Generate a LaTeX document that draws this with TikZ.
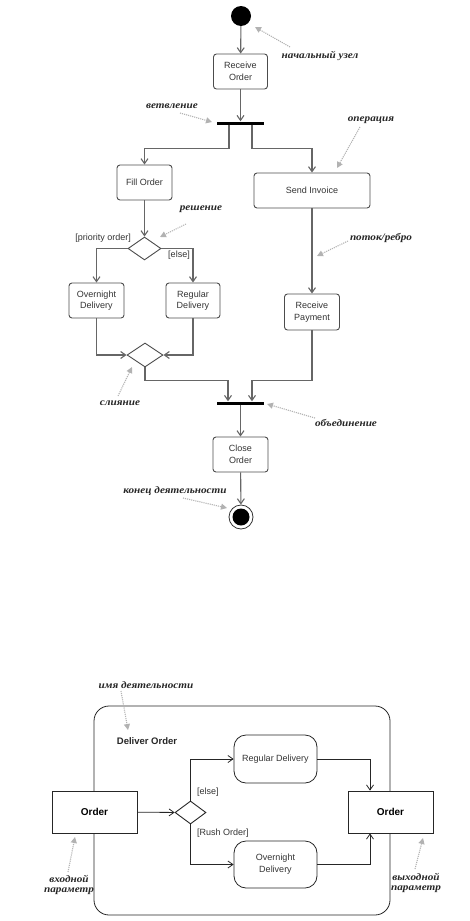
\documentclass[tikz,border=0pt]{standalone}
\usepackage{fontspec}
\setmainfont{Liberation Sans}
\newfontfamily\handfont[FakeStretch=1.12]{Liberation Serif}
\usetikzlibrary{arrows.meta,shapes.geometric}
\begin{document}
\begin{tikzpicture}[x=1pt,y=-1pt,
  every node/.style={inner sep=0pt},
  act/.style={draw=black!70, line width=0.9pt, rounded corners=3pt, align=center,
    font=\fontsize{9}{11.5}\selectfont, text=black!80},
  bigact/.style={draw=black!85, line width=0.8pt, rounded corners=12pt, align=center,
    font=\fontsize{9}{12}\selectfont, text=black!80},
  param/.style={draw=black!85, line width=0.8pt, fill=white,
    font=\fontsize{10}{12}\selectfont\bfseries},
  bar/.style={fill=black, minimum height=3pt},
  dec/.style={diamond, draw=black!70, line width=0.9pt, fill=white},
  flow/.style={draw=black!60, line width=1.1pt, -{Straight Barb[length=5pt,width=7pt]}},
  flowb/.style={draw=black!85, line width=0.8pt, -{Straight Barb[length=5pt,width=7pt]}},
  guard/.style={font=\fontsize{9}{11}\selectfont, text=black!80},
  note/.style={font=\fontsize{10}{10}\selectfont\handfont\bfseries\itshape, text=black!85, align=center},
  notearrow/.style={draw=black!30, line width=1.1pt, densely dotted,
    -{Triangle[length=6pt,width=6pt,fill=black!30]}}
]
\useasboundingbox (0,0) rectangle (470,921);

% ---------- top diagram ----------
\node[circle, fill=black, minimum size=20pt] (start) at (241,16) {};
\node[act, minimum width=54pt, minimum height=35pt] (recv) at (240.5,71.5) {Receive\\Order};
\node[bar, minimum width=47pt] (fork) at (240.5,123) {};
\node[act, minimum width=55pt, minimum height=35pt] (fill) at (144.5,182.5) {Fill Order};
\node[act, minimum width=116pt, minimum height=35pt] (send) at (312,190.5) {Send Invoice};
\node[dec, minimum width=33pt, minimum height=23pt] (dec) at (144.5,248.5) {};
\node[act, minimum width=55pt, minimum height=35pt] (over) at (96.5,300.5) {Overnight\\Delivery};
\node[act, minimum width=54pt, minimum height=35pt] (reg) at (193,300.5) {Regular\\Delivery};
\node[act, minimum width=55pt, minimum height=36pt] (pay) at (312,312) {Receive\\Payment};
\node[dec, minimum width=36pt, minimum height=24pt] (merge) at (145,355) {};
\node[bar, minimum width=47pt] (join) at (240.5,403) {};
\node[act, minimum width=55pt, minimum height=35pt] (close) at (240.5,454.5) {Close\\Order};
\node[circle, draw=black!80, line width=0.8pt, minimum size=24pt,
  path picture={\fill[black] (path picture bounding box.center) circle (8.5pt);}] (end) at (241,517) {};

\node[guard, anchor=east] (g1) at (131,238) {[priority order]};
\node[guard] (g2) at (179,255) {[else]};

\draw[flow] (start) -- (recv);
\draw[flow] (recv) -- (fork);
\draw[flow] ([xshift=-11.5pt]fork.south) -- ++(0,24) -| (fill.north);
\draw[flow] ([xshift=11.5pt]fork.south) -- ++(0,24) -| (send.north);
\draw[flow] (fill) -- (dec);
\draw[flow] (send) -- (pay);
\draw[flow] (dec.west) -| (over.north);
\draw[flow] (dec.east) -| (reg.north);
\draw[flow] (over.south) |- (merge.west);
\draw[flow] (reg.south) |- (merge.east);
\draw[flow] (merge.south) -- ++(0,13) -| ([xshift=-12.5pt]join.north);
\draw[flow] (pay.south) -- ++(0,50) -| ([xshift=11.5pt]join.north);
\draw[flow] (join) -- (close);
\draw[flow] (close) -- (end);

% annotations top
\node[note] (n1) at (320,56) {начальный узел};
\coordinate (n1t) at (255,27);
\draw[notearrow] (290,47) -- (n1t);
\node[note] (n2) at (172,106) {ветвление};
\coordinate (n2t) at (212,122);
\draw[notearrow] (180,113) -- (n2t);
\node[note] (n3) at (371,120) {операция};
\coordinate (n3t) at (337,168);
\draw[notearrow] (360,127) -- (n3t);
\node[note] (n4) at (201,209) {решение};
\coordinate (n4t) at (160,237);
\draw[notearrow] (186,224) -- (n4t);
\node[note] (n5) at (381,238) {поток/ребро};
\coordinate (n5t) at (317,256);
\draw[notearrow] (348,241) -- (n5t);
\node[note] (n6) at (120,403) {слияние};
\coordinate (n6t) at (132,367);
\draw[notearrow] (118,396) -- (n6t);
\node[note] (n7) at (346,423) {объединение};
\coordinate (n7t) at (267,404);
\draw[notearrow] (315,418) -- (n7t);
\node[note] (n8) at (175,491) {конец деятельности};
\coordinate (n8t) at (227,508);
\draw[notearrow] (183,498) -- (n8t);

% ---------- bottom diagram ----------
\node[draw=black!85, line width=0.8pt, rounded corners=15pt, minimum width=296pt, minimum height=209pt] (frame) at (242,810.5) {};
\node[font=\fontsize{9.5}{11}\selectfont\bfseries, text=black!85] (title) at (147,741) {Deliver Order};
\node[param, minimum width=85pt, minimum height=42pt] (in) at (94.5,812) {Order};
\node[param, minimum width=85pt, minimum height=42pt] (out) at (390.5,812) {Order};
\node[dec, draw=black!85, minimum width=31pt, minimum height=23pt] (dd) at (190.5,812.5) {};
\node[bigact, minimum width=83pt, minimum height=48pt] (rd) at (275.5,759) {Regular Delivery};
\node[bigact, minimum width=83pt, minimum height=47pt] (od) at (275.5,864.5) {Overnight\\Delivery};
\node[guard, anchor=west] (g3) at (197,792) {[else]};
\node[guard, anchor=west] (g4) at (197,833) {[Rush Order]};

\draw[flowb] (in) -- (dd);
\draw[flowb] (dd.north) |- (rd.west);
\draw[flowb] (dd.south) |- (od.west);
\draw[flowb] (rd.east) -| ([xshift=-20.5pt]out.north);
\draw[flowb] (od.east) -| ([xshift=-20.5pt]out.south);

\node[note] (n9) at (146,685) {имя деятельности};
\coordinate (n9t) at (128,730);
\draw[notearrow] (121,691) -- (n9t);
\node[note] (n10) at (69,885) {входной\\параметр};
\coordinate (n10t) at (75,837);
\draw[notearrow] (68,872) -- (n10t);
\node[note] (n11) at (416,883) {выходной\\параметр};
\coordinate (n11t) at (423,838);
\draw[notearrow] (415,869) -- (n11t);
\end{tikzpicture}
\end{document}
